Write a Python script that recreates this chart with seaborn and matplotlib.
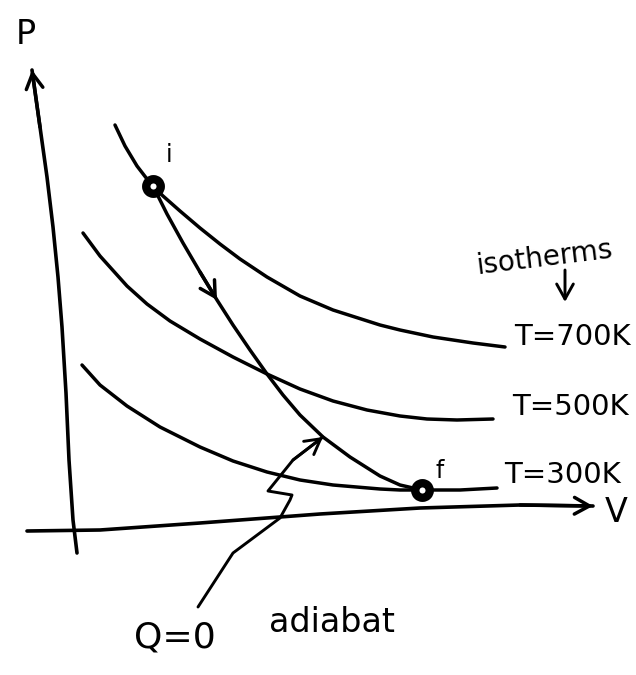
import pandas as pd
import seaborn as sns
import matplotlib.pyplot as plt

sns.set_theme(style="white")
plt.rcParams['font.family'] = ['DejaVu Sans']

# Sketch-scale coordinates: V grows to the right, P grows upward
iso700_V = [115, 125, 137, 147, 153, 163, 180, 200, 220, 240, 267, 300, 333, 380, 400, 433, 473, 505]
iso700_P = [550, 529, 509, 496, 489, 479, 464, 447, 431, 416, 398, 379, 365, 350, 345, 338, 332, 328]

iso500_V = [83, 100, 127, 147, 170, 200, 233, 267, 300, 333, 367, 400, 427, 457, 493]
iso500_P = [442, 419, 389, 371, 354, 336, 318, 301, 286, 274, 265, 259, 256, 255, 256]

iso300_V = [82, 100, 127, 160, 200, 233, 267, 300, 333, 380, 400, 422, 460, 497]
iso300_P = [310, 290, 269, 248, 228, 214, 203, 195, 190, 186, 185, 185, 185, 187]

adiabat_V = [153, 167, 183, 200, 217, 233, 250, 267, 283, 300, 323, 350, 380, 400, 422]
adiabat_P = [489, 461, 432, 403, 375, 350, 325, 301, 280, 260, 238, 218, 199, 190, 185]

state_names = ["i", "f"]
state_V = [153, 422]
state_P = [489, 185]

isotherm_labels = ["T=700K", "T=500K", "T=300K"]

# hand-drawn axes
p_axis_V = [77, 73, 69, 66, 62, 58, 53, 47, 40, 32]
p_axis_P = [122, 155, 215, 282, 348, 398, 448, 498, 548, 605]
v_axis_V = [27, 100, 200, 320, 420, 520, 593]
v_axis_P = [144, 145, 152, 161, 167, 170, 169]

# pointer from the "Q=0" note to the adiabat
pointer_V = [198, 233, 280, 290, 292, 268, 293, 323]
pointer_P = [68, 122, 157, 175, 180, 184, 215, 238]

fig = plt.figure(figsize=(6.36, 6.75), dpi=100)
ax = fig.add_axes([0, 0, 1, 1])
ax.set_xlim(0, 636)
ax.set_ylim(0, 675)
ax.axis("off")

line_kw = dict(sort=False, estimator=None, color="black",
               solid_joinstyle="round", solid_capstyle="round", legend=False)

for xs, ys, lw in [(p_axis_V, p_axis_P, 2.6), (v_axis_V, v_axis_P, 2.6),
                   (iso700_V, iso700_P, 2.5), (iso500_V, iso500_P, 2.5),
                   (iso300_V, iso300_P, 2.5), (adiabat_V, adiabat_P, 2.5),
                   (pointer_V, pointer_P, 2.1)]:
    df = pd.DataFrame({"V": xs, "P": ys})
    sns.lineplot(data=df, x="V", y="P", ax=ax, lw=lw, **line_kw)

arrow = dict(arrowstyle="->,head_length=0.9,head_width=0.5", color="black", lw=2.5,
             shrinkA=0, shrinkB=0)
# axis arrowheads
ax.annotate("", xy=(p_axis_V[-1], p_axis_P[-1]), xytext=(p_axis_V[-2], p_axis_P[-2]),
            arrowprops=arrow)
ax.annotate("", xy=(v_axis_V[-1], v_axis_P[-1]), xytext=(v_axis_V[-2], v_axis_P[-2]),
            arrowprops=arrow)
# direction of the process along the adiabat
ax.annotate("", xy=(adiabat_V[4], adiabat_P[4]), xytext=(adiabat_V[3], adiabat_P[3]),
            arrowprops=arrow)
# pointer head
ax.annotate("", xy=(pointer_V[-1], pointer_P[-1]), xytext=(pointer_V[-2], pointer_P[-2]),
            arrowprops=dict(arrow, lw=2.1))

# initial and final states
sns.scatterplot(x=state_V, y=state_P, ax=ax, s=110, marker="o",
                facecolor="white", edgecolor="black", linewidth=6, zorder=5, legend=False)

txt = dict(color="black", ha="center", va="center")
ax.text(169, 520, state_names[0], fontsize=17, **txt)
ax.text(440, 204, state_names[1], fontsize=17, **txt)
ax.text(26, 640, "P", fontsize=24, **txt)
ax.text(616, 162, "V", fontsize=24, **txt)

for (y, label), x in zip(zip([338, 268, 200], isotherm_labels), [572, 570, 563]):
    ax.text(x, y, label, fontsize=21, **txt)

ax.text(545, 417, "isotherms", fontsize=20, rotation=7, **txt)
ax.annotate("", xy=(565, 373), xytext=(565, 405),
            arrowprops=dict(arrow, lw=2.1))

ax.text(175, 37, "Q=0", fontsize=26, **txt)
ax.text(332, 52, "adiabat", fontsize=24, **txt)

fig.savefig("out.png", dpi=100, facecolor="white")
